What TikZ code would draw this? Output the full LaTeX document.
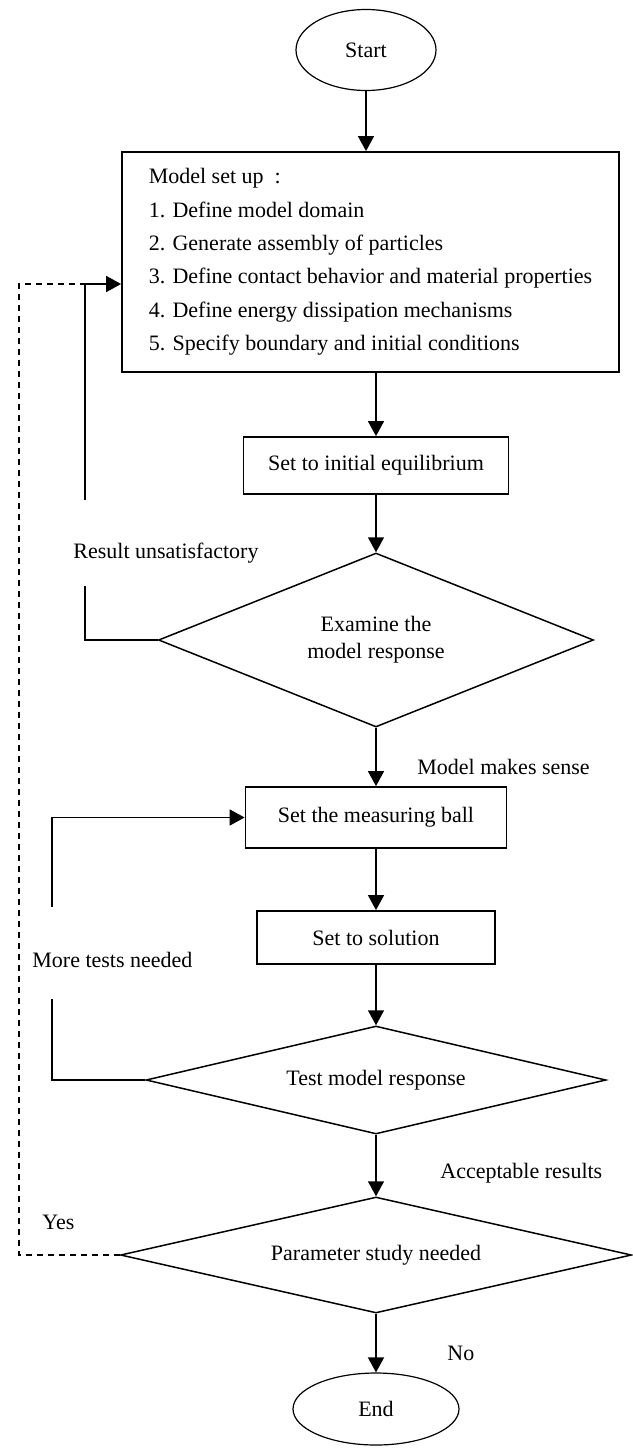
\documentclass[tikz,border=0pt]{standalone}
\usepackage{fontspec}
\setmainfont{Liberation Serif}
\usetikzlibrary{positioning,arrows.meta,shapes.geometric}
\tikzset{
  flowarrow/.style={-{Triangle[length=7.5pt,width=8pt]}, line width=0.75pt},
  backline/.style={line width=0.75pt},
  backdash/.style={line width=0.75pt, dash pattern=on 3pt off 2.5pt},
  termbox/.style={draw, ellipse, line width=0.6pt, inner sep=0pt},
  procbox/.style={draw, rectangle, line width=0.9pt, inner sep=0pt, align=center},
  decbox/.style={draw, diamond, line width=0.75pt, inner sep=0pt, align=center},
  lbl/.style={anchor=west, inner sep=0pt}
}

\begin{document}
\begin{tikzpicture}[x=0.5pt, y=-0.5pt, every node/.style={font=\fontsize{11}{13.5}\selectfont}]
  \useasboundingbox (0,0) rectangle (632,1450);
  % main column
  \node[termbox, minimum width=70pt, minimum height=40.5pt] (start) at (366,50) {Start};
  \node[procbox, minimum width=248.5pt, minimum height=110pt, align=left,
        font=\fontsize{11}{16.7}\selectfont] (setup) at (370.5,262)
    {Model set up\enspace:\\
     1. Define model domain\\
     2. Generate assembly of particles\\
     3. Define contact behavior and material properties\\
     4. Define energy dissipation mechanisms\\
     5. Specify boundary and initial conditions};
  \node[procbox, minimum width=132.5pt, minimum height=28.5pt] (init) at (376,465.5) {Set to initial equilibrium};
  \node[decbox, aspect=2.5, minimum width=217.5pt, minimum height=87pt] (exam) at (376,640) {Examine the\\model response};
  \node[procbox, minimum width=130.5pt, minimum height=30.5pt] (ball) at (376,817.5) {Set the measuring ball};
  \node[procbox, minimum width=119pt, minimum height=26.5pt] (sol) at (376,937.5) {Set to solution};
  \node[decbox, aspect=4.26, minimum width=230pt, minimum height=54pt] (test) at (376,1080) {Test model response};
  \node[decbox, aspect=4.4, minimum width=255.5pt, minimum height=58pt] (param) at (376,1255) {Parameter study needed};
  \node[termbox, minimum width=83pt, minimum height=36pt] (end) at (376,1409) {End};

  % labels
  \node[lbl] (unsat) at (73,553) {Result unsatisfactory};
  \node[lbl] (sense) at (417,767) {Model makes sense};
  \node[lbl] (more) at (32,960) {More tests needed};
  \node[lbl] (accept) at (440,1173) {Acceptable results};
  \node[lbl] (yes) at (42,1222) {Yes};
  \node[lbl] (no) at (447,1353) {No};

  % forward arrows
  \draw[flowarrow] (start.south) -- (start.south |- setup.north);
  \draw[flowarrow] (init.north |- setup.south) -- (init.north);
  \draw[flowarrow] (init) -- (exam);
  \draw[flowarrow] (exam) -- (ball);
  \draw[flowarrow] (ball) -- (sol);
  \draw[flowarrow] (sol) -- (test);
  \draw[flowarrow] (test) -- (param);
  \draw[flowarrow] (param) -- (end);

  % loops back
  \path (setup.west) ++(0,22) coordinate (entry);
  \coordinate (u1) at (85,586);
  \coordinate (u2) at (85,500);
  \coordinate (m1) at (52,999);
  \coordinate (m2) at (52,907);
  \draw[backdash] (param.west) -- ++(-101,0) |- (entry);
  \draw[backline] (exam.west) -| (u1);
  \draw[flowarrow] (u2) |- (entry);
  \draw[backline] (test.west) -| (m1);
  \draw[flowarrow] (m2) |- (ball.west);
\end{tikzpicture}
\end{document}
